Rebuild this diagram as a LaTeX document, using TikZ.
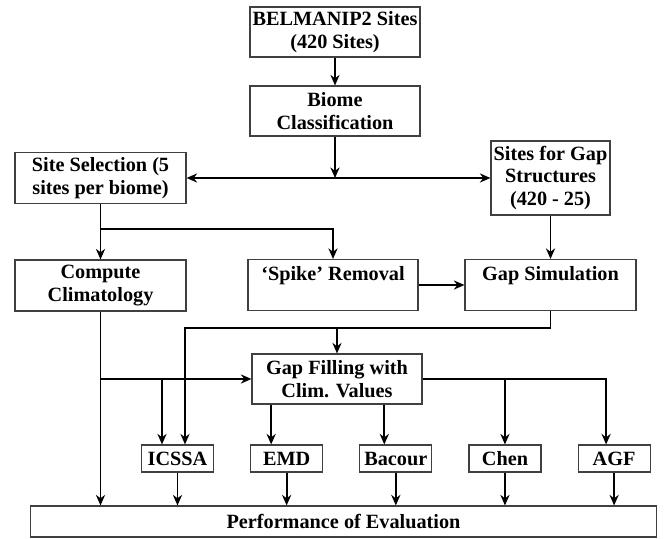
\documentclass[tikz,border=0pt]{standalone}
\usepackage{fontspec}
\setmainfont{Liberation Serif}
\usepackage{tikz}
\usetikzlibrary{positioning,arrows.meta}
\pgfdeclarelayer{nodelayer}
\pgfdeclarelayer{edgelayer}
\pgfsetlayers{main,nodelayer,edgelayer}
\tikzstyle{procBox}=[rectangle, draw=black!75, line width=0.8pt, align=center, inner sep=1.5pt, font=\bfseries\fontsize{14.4}{16}\selectfont]
\tikzstyle{algBox}=[procBox, minimum width=1.8cm, minimum height=0.675cm]
\tikzstyle{flowArr}=[-{Stealth[length=7.5pt, width=6.5pt]}, line width=1.3pt, black]
\tikzstyle{flowLine}=[-, line width=1.3pt, black]

\begin{document}
\begin{tikzpicture}[x=0.025cm, y=-0.025cm]
        \useasboundingbox (0,0) rectangle (669,538);
        \begin{pgfonlayer}{nodelayer}
            \node [style=procBox, minimum width=4.25cm, minimum height=1.25cm] (Bel) at (335, 32) {BELMANIP2 Sites\\(420 Sites)};
            \node [style=procBox, minimum width=4.25cm, minimum height=1.25cm] (Biome) at (335, 111) {Biome\\Classification};
            \node [style=procBox, minimum width=4.275cm, minimum height=1.275cm] (SiteSel) at (100.5, 178) {Site Selection (5\\sites per biome)};
            \node [style=procBox, minimum width=2.975cm, minimum height=1.85cm] (GapSites) at (550.5, 178) {Sites for Gap\\Structures\\(420 - 25)};
            \node [style=procBox, minimum width=4.275cm, minimum height=1.275cm] (Compute) at (100.5, 285.5) {Compute\\Climatology};
            \node [style=procBox, minimum width=4.25cm, minimum height=1.275cm, text depth=0.6cm] (Spike) at (333, 285) {‘Spike’ Removal};
            \node [style=procBox, minimum width=4.275cm, minimum height=1.275cm, text depth=0.6cm] (GapSim) at (550.5, 285) {Gap Simulation};
            \node [style=procBox, minimum width=4.25cm, minimum height=1.25cm] (GapFill) at (337, 379) {Gap Filling with\\Clim. Values};

            %Gap filling methods
            \node [style=algBox] (ICSSA) at (177.5, 458.5) {ICSSA};
            \node [style=algBox, right=0.9cm of ICSSA] (EMD) {EMD};
            \node [style=algBox, right=0.9cm of EMD] (Bacour) {Bacour};
            \node [style=algBox, right=0.9cm of Bacour] (Chen) {Chen};
            \node [style=algBox, right=0.9cm of Chen] (AGF) {AGF};

            \node [style=procBox, minimum width=15.625cm, minimum height=0.775cm] (Perf) at (343.5, 521.5) {Performance of Evaluation};
        \end{pgfonlayer}
        \begin{pgfonlayer}{edgelayer}
                \coordinate (SplitA) at (335, 178);
                \coordinate (SplitB) at (100.5, 229);
                \coordinate (SplitC) at (337, 328);
                \coordinate (SplitD) at (100.5, 379);
                \coordinate (IcSim) at ([xshift=0.1875cm]ICSSA.north);
                \coordinate (IcClim) at ([xshift=-0.3875cm]ICSSA.north);
                \coordinate (EmdIn) at ([xshift=-0.3875cm]EMD.north);
                \coordinate (BacIn) at ([xshift=-0.2875cm]Bacour.north);
                \coordinate (AgfIn) at ([xshift=-0.2cm]AGF.north);

                \draw [style={flowArr}] (Bel) to (Biome);
                \draw [style={flowArr}] (Biome) to (SplitA);
                \draw [style={flowArr}] (SplitA) to (SiteSel.east);
                \draw [style={flowArr}] (SplitA) to (GapSites.west);

                \draw [style={flowArr}] (SiteSel) to (Compute);
                \draw [style={flowArr}] (SplitB) -| (Spike.north);
                \draw [style={flowArr}] (GapSites) to (GapSim);
                \draw [style={flowArr}] (Spike) to (GapSim);

                \draw [style={flowArr}] (GapSim.south) |- (IcSim |- SplitC) -- (IcSim);
                \draw [style={flowArr}] (SplitC) to (GapFill);

                \draw [style={flowArr}] (Compute) to (Compute |- Perf.north);
                \draw [style={flowArr}] (SplitD) to (GapFill.west);
                \draw [style={flowArr}] (IcClim |- SplitD) to (IcClim);

                \draw [style={flowArr}] (EmdIn |- GapFill.south) to (EmdIn);
                \draw [style={flowArr}] (BacIn |- GapFill.south) to (BacIn);
                \draw [style={flowArr}] (GapFill.east) -| (AgfIn);
                \draw [style={flowArr}] (Chen |- GapFill.east) to (Chen);

                \draw [style={flowArr}] (ICSSA) to (ICSSA |- Perf.north);
                \draw [style={flowArr}] (EMD) to (EMD |- Perf.north);
                \draw [style={flowArr}] (Bacour) to (Bacour |- Perf.north);
                \draw [style={flowArr}] (Chen) to (Chen |- Perf.north);
                \draw [style={flowArr}] (AGF) to (AGF |- Perf.north);
        \end{pgfonlayer}
    \end{tikzpicture}
\end{document}
